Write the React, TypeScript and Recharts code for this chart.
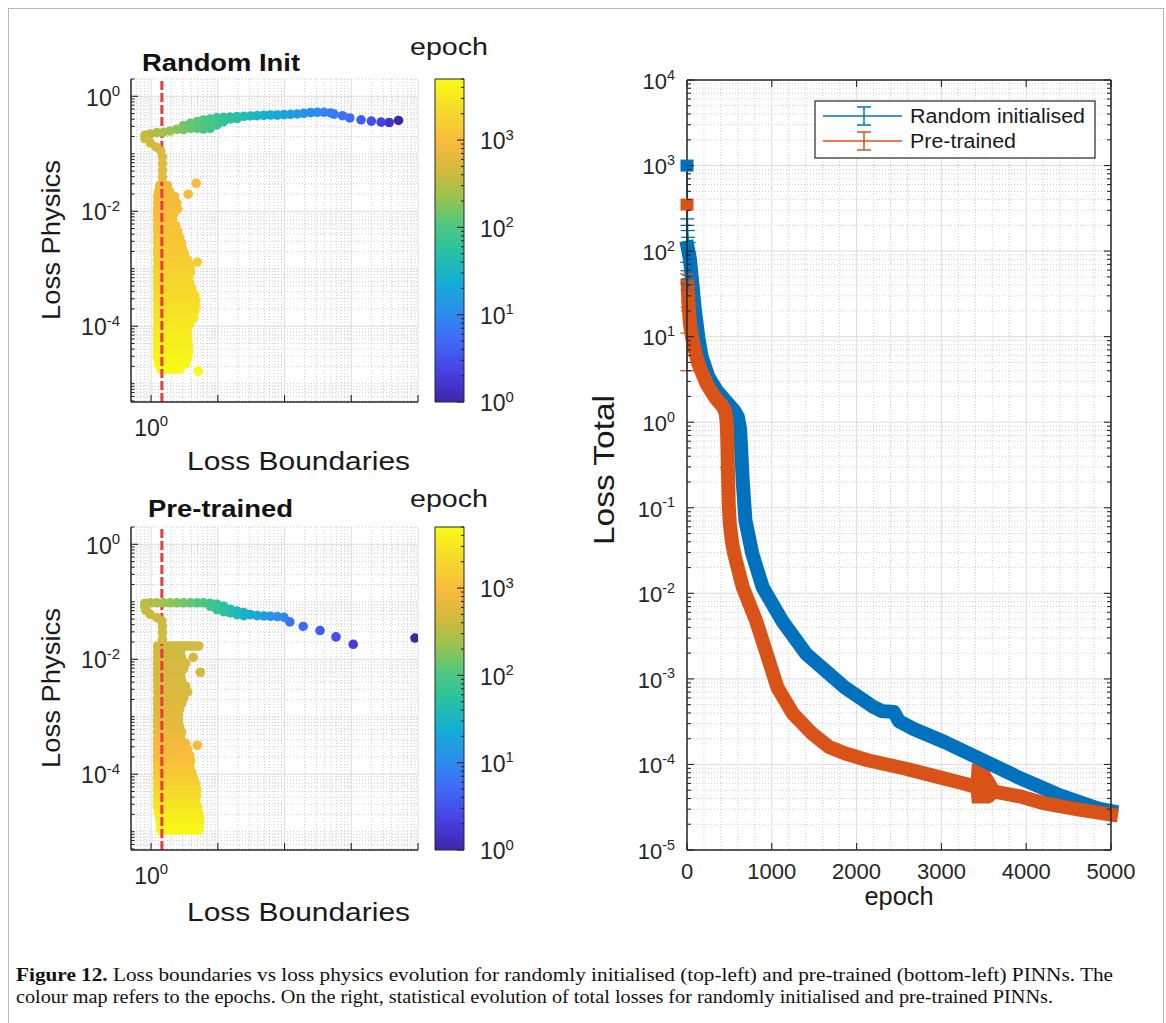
import React from "react";
import {
  ComposedChart,
  Scatter,
  Line,
  Area,
  XAxis,
  YAxis,
  CartesianGrid,
  ReferenceLine,
  ReferenceArea,
  ErrorBar,
} from "recharts";

// ---------- Random Init panel: each dot = (loss boundaries, loss physics, epoch) ----------
const randB = [5100, 3700, 2800, 2000, 1400, 950, 740, 550, 492, 390, 310, 246, 195, 155, 123, 98, 78, 61.5, 48.9, 38.8, 30.8, 24.5, 19.4, 19.4, 15.4, 15.4, 12.2, 12.2, 9.7, 9.7, 9.7, 7.7, 7.7, 7.7, 6.1, 6.1, 6.1, 4.9, 4.9, 3.9, 3.9, 3.06, 3.06, 2.43, 1.93, 1.53, 1.22, 0.97, 0.81, 0.81, 0.97, 1.19, 1.4, 1.48, 1.48, 1.48, 1.48, 4.75, 3.6, 4.92, 5.09];
const randP = [0.38, 0.35, 0.355, 0.37, 0.39, 0.42, 0.46, 0.49, 0.513, 0.527, 0.527, 0.52, 0.506, 0.493, 0.486, 0.48, 0.473, 0.473, 0.468, 0.461, 0.455, 0.449, 0.443, 0.41, 0.437, 0.404, 0.431, 0.363, 0.426, 0.367, 0.317, 0.404, 0.335, 0.278, 0.388, 0.326, 0.27, 0.363, 0.278, 0.34, 0.278, 0.309, 0.263, 0.267, 0.249, 0.237, 0.233, 0.221, 0.21, 0.184, 0.155, 0.131, 0.112, 0.088, 0.0675, 0.0516, 0.039, 0.0307, 0.0198, 0.0013, 1.65e-5];
const randE = [1, 1.5, 2.2, 3, 4, 5, 6, 7, 7.5, 8.5, 9.5, 11, 12.5, 14, 16, 18, 21, 24, 28, 32, 37, 43, 50, 50, 58, 58, 66, 66, 76, 76, 76, 88, 88, 88, 100, 100, 100, 115, 115, 132, 132, 155, 155, 180, 210, 245, 280, 320, 360, 400, 440, 480, 520, 560, 610, 660, 710, 900, 950, 1500, 4800];
// dense late-epoch cloud, read row by row (physics level, boundaries from..to, epoch)
const randRowP = [0.028, 0.022, 0.018, 0.014, 0.011, 0.0089, 0.0071, 0.0056, 0.0045, 0.0035, 0.0028, 0.0022, 0.0018, 0.0014, 0.0011, 8.9e-4, 7.1e-4, 5.6e-4, 4.5e-4, 3.5e-4, 2.8e-4, 2.2e-4, 1.8e-4, 1.4e-4, 1.1e-4, 8.9e-5, 7.1e-5, 5.6e-5, 4.5e-5, 3.5e-5, 2.8e-5, 2.2e-5, 1.8e-5];
const randRowFrom = [1.34, 1.3, 1.25, 1.25, 1.25, 1.25, 1.25, 1.25, 1.25, 1.25, 1.25, 1.25, 1.25, 1.25, 1.25, 1.25, 1.25, 1.25, 1.25, 1.25, 1.25, 1.25, 1.25, 1.25, 1.25, 1.25, 1.25, 1.25, 1.25, 1.25, 1.25, 1.3, 1.39];
const randRowTo = [1.77, 1.9, 2.25, 2.42, 2.5, 2.18, 2.11, 2.34, 2.5, 2.68, 2.87, 2.97, 3.19, 3.54, 3.8, 3.93, 3.66, 3.8, 4.07, 4.51, 4.67, 4.67, 4.51, 4.35, 3.8, 3.42, 3.54, 3.54, 3.66, 3.66, 3.54, 3.3, 2.68];
const randRowE = [750, 800, 850, 900, 950, 1000, 1050, 1100, 1150, 1200, 1300, 1350, 1400, 1500, 1600, 1700, 1800, 1900, 2000, 2150, 2300, 2450, 2600, 2800, 3000, 3200, 3400, 3600, 3800, 4000, 4200, 4500, 4800];

// ---------- Pre-trained panel ----------
const pretB = [9000, 1070, 590, 340, 190, 120, 98, 78, 61.5, 48.9, 38.8, 30.8, 24.5, 24.5, 19.4, 19.4, 15.4, 15.4, 12.2, 12.2, 9.7, 9.7, 7.7, 7.7, 6.1, 4.9, 3.9, 3.06, 2.43, 1.93, 1.53, 1.22, 0.97, 0.81, 0.8, 0.84, 0.97, 1.22, 1.45, 1.48, 1.48, 1.48, 5.46, 4.28, 4.92];
const pretP = [0.0234, 0.0182, 0.0245, 0.0316, 0.0372, 0.0447, 0.0537, 0.055, 0.056, 0.0567, 0.0575, 0.0598, 0.0649, 0.0575, 0.0693, 0.0598, 0.0741, 0.064, 0.0836, 0.0675, 0.0905, 0.073, 0.094, 0.0836, 0.096, 0.096, 0.096, 0.096, 0.096, 0.096, 0.096, 0.096, 0.096, 0.094, 0.0857, 0.071, 0.0603, 0.0531, 0.0464, 0.037, 0.029, 0.022, 0.00594, 0.0108, 3.19e-4];
const pretE = [1, 2, 3, 4, 5, 6, 9, 11, 13, 15, 18, 22, 28, 28, 34, 34, 42, 42, 52, 52, 65, 65, 80, 80, 95, 110, 130, 150, 175, 200, 230, 260, 290, 320, 350, 380, 400, 420, 430, 435, 440, 445, 470, 450, 900];
const pretRowP = [0.017, 0.0135, 0.0107, 0.0085, 0.0068, 0.0054, 0.0043, 0.0034, 0.0027, 0.0021, 0.0017, 0.00135, 0.00107, 8.5e-4, 6.8e-4, 5.4e-4, 4.3e-4, 3.4e-4, 2.7e-4, 2.1e-4, 1.7e-4, 1.35e-4, 1.07e-4, 8.5e-5, 6.8e-5, 5.4e-5, 4.3e-5, 3.4e-5, 2.7e-5, 2.1e-5, 1.7e-5, 1.35e-5, 1.07e-5];
const pretRowFrom = [1.25, 1.25, 1.25, 1.25, 1.25, 1.25, 1.25, 1.25, 1.25, 1.25, 1.25, 1.25, 1.25, 1.25, 1.25, 1.25, 1.25, 1.25, 1.25, 1.25, 1.25, 1.25, 1.25, 1.25, 1.25, 1.25, 1.25, 1.25, 1.25, 1.3, 1.34, 1.39, 1.39];
const pretRowTo = [5.18, 2.78, 2.87, 3.3, 3.08, 2.78, 2.87, 3.3, 3.54, 3.08, 2.87, 2.68, 2.59, 2.59, 2.68, 2.87, 2.78, 3.3, 3.54, 3.8, 3.93, 3.8, 4.07, 4.35, 4.67, 4.83, 4.83, 4.67, 5.0, 5.18, 5.36, 5.36, 5.18];
const pretRowE = [440, 450, 460, 470, 480, 490, 500, 515, 530, 545, 560, 580, 600, 630, 660, 700, 750, 800, 870, 950, 1050, 1150, 1300, 1450, 1650, 1900, 2200, 2500, 2900, 3300, 3700, 4100, 4600];

const redLineB = 1.45;

// ---------- Total loss vs epoch ----------
const epochBlue = [0, 8, 35, 63, 94, 134, 173, 252, 350, 487, 560, 600, 625, 640, 658, 689, 770, 892, 1120, 1403, 1858, 2199, 2300, 2440, 2500, 2674, 3037, 3490, 3944, 4398, 4852, 5000];
const lossBlue = [1000, 110, 80, 41, 20, 9.8, 5.8, 3.4, 2.35, 1.64, 1.35, 1.15, 0.85, 0.45, 0.2, 0.071, 0.029, 0.0118, 0.0048, 0.00197, 8.0e-4, 4.7e-4, 4.2e-4, 4.1e-4, 3.2e-4, 2.6e-4, 1.83e-4, 1.12e-4, 6.8e-5, 4.35e-5, 3.05e-5, 2.85e-5];
const epochOrange = [0, 8, 16, 35, 74, 134, 232, 330, 428, 455, 468, 476, 484, 492, 505, 530, 560, 657, 814, 937, 1065, 1246, 1474, 1675, 1858, 2130, 2582, 2900, 3264, 3400, 3627, 3944, 4216, 4622, 5000];
const lossOrange = [350, 40, 26, 14, 8.2, 4.8, 2.8, 1.95, 1.5, 1.3, 1.0, 0.6, 0.25, 0.11, 0.065, 0.04, 0.028, 0.0118, 0.0048, 0.002, 8.0e-4, 3.95e-4, 2.3e-4, 1.6e-4, 1.35e-4, 1.12e-4, 8.9e-5, 7.4e-5, 6.0e-5, 5.5e-5, 4.8e-5, 4.2e-5, 3.5e-5, 2.97e-5, 2.6e-5];
// error bars that stick out of the bands
const errBlueEpoch = [2, 5, 9, 14, 20, 27];
const errBlueMid = [130, 115, 100, 88, 80, 70];
const errBlueLow = [74, 59, 41, 35, 47, 52];
const errBlueHigh = [238, 200, 174, 145, 126, 97];
const errOrangeEpoch = [2, 5, 8, 12, 470, 478];
const errOrangeMid = [38, 33, 28, 24, 0.65, 0.5];
const errOrangeLow = [4, 11, 22, 20, 0.3, 0.28];
const errOrangeHigh = [54, 43, 35, 26, 0.9, 0.8];
// the wide spread of the pre-trained runs near epoch 3500
const spikeEpoch = [3355, 3370, 3540, 3565, 3610, 3660];
const spikeLow = [5.4e-5, 3.6e-5, 3.6e-5, 3.6e-5, 3.8e-5, 4.3e-5];
const spikeHigh = [5.8e-5, 1.0e-4, 1.0e-4, 8.0e-5, 6.8e-5, 5.6e-5];

const epochTicks = [0, 1000, 2000, 3000, 4000, 5000];

// ---------- styles ----------
const SANS = '"Liberation Sans", Arial, Helvetica, sans-serif';
const SERIF = '"Liberation Serif", "Times New Roman", serif';
const INK = "#262626";
const GRID = "#dcdcdc";
const GRID_MINOR = "#cdcdcd";
const BLUE = "#0072BD";
const ORANGE = "#D95319";
const RED = "#ec3b3b";

const PARULA: [number, number[]][] = [
  [0.0, [62, 38, 168]],
  [0.1, [71, 67, 230]],
  [0.2, [62, 110, 248]],
  [0.27, [44, 138, 238]],
  [0.37, [19, 174, 214]],
  [0.47, [42, 194, 160]],
  [0.55, [79, 199, 127]],
  [0.63, [151, 196, 81]],
  [0.7, [201, 186, 64]],
  [0.8, [248, 186, 60]],
  [0.9, [246, 217, 43]],
  [1.0, [249, 251, 21]],
];
const rgb = (c: number[]) => `rgb(${c.map((v) => Math.round(v)).join(",")})`;

function parula(epoch: number) {
  const t = Math.min(1, Math.max(0, Math.log10(epoch) / Math.log10(5000)));
  for (let i = 1; i < PARULA.length; i++) {
    const [t0, c0] = PARULA[i - 1];
    const [t1, c1] = PARULA[i];
    if (t <= t1) {
      const f = (t - t0) / (t1 - t0);
      return rgb(c0.map((v, k) => v + (c1[k] - v) * f));
    }
  }
  return rgb(PARULA[PARULA.length - 1][1]);
}

// all log ticks k*10^n inside [lo, hi]
function logTicks(lo: number, hi: number) {
  const out: number[] = [];
  for (let e = Math.floor(Math.log10(lo)); e <= Math.ceil(Math.log10(hi)); e++) {
    for (let k = 1; k <= 9; k++) {
      const v = +(k * Math.pow(10, e)).toPrecision(3);
      if (v >= lo * 0.999 && v <= hi * 1.001) out.push(v);
    }
  }
  return out;
}
const isIn = (v: number, list: number[]) =>
  list.some((m) => Math.abs(v - m) <= Math.abs(m) * 1e-6 + 1e-12);

type Side = "left" | "right" | "bottom" | "top";

function makeTick(side: Side, majors: number[], labels: number[], fs: number, off: number, pow: boolean, minorLen = 4) {
  return function AxisTick(p: any) {
    const v = Number(p.payload?.value);
    const x = Number(p.x);
    const y = Number(p.y);
    const len = isIn(v, majors) ? 7 : minorLen;
    const seg =
      side === "left" ? [x, y, x + len, y]
      : side === "right" ? [x, y, x - len, y]
      : side === "bottom" ? [x, y, x, y - len]
      : [x, y, x, y + len];
    let label: React.ReactNode = null;
    if (isIn(v, labels)) {
      const anchor = side === "left" ? "end" : side === "right" ? "start" : "middle";
      const lx = side === "left" ? x - off : side === "right" ? x + off : x;
      const ly = side === "bottom" ? y + off : y + fs * 0.4;
      label = (
        <text x={lx} y={ly} textAnchor={anchor} fontSize={fs} fontFamily={SANS} fill={INK}>
          {pow ? "10" : String(v)}
          {pow && (
            <tspan dy={-fs * 0.42} fontSize={fs * 0.65}>
              {Math.round(Math.log10(v))}
            </tspan>
          )}
        </text>
      );
    }
    return (
      <g>
        <line x1={seg[0]} y1={seg[1]} x2={seg[2]} y2={seg[3]} stroke={INK} strokeWidth={1.1} />
        {label}
      </g>
    );
  };
}

// ---------- scatter panels ----------
const physTicks = logTicks(4.8e-6, 2);
const physMajor = [1, 1e-2, 1e-4];
const physMinor = physTicks.filter((v) => !isIn(v, physMajor));
const bndMajor = [1, 10, 100, 1000, 10000];
const bndMinor = logTicks(0.5, 10000).filter((v) => !isIn(v, bndMajor));
const cbTicks = logTicks(1, 5000);
const cbMajor = [1, 10, 100, 1000];

const physTick = makeTick("left", physMajor, physMajor, 23, 11, true, 3.5);
const bndTick = makeTick("bottom", bndMajor, [1], 23, 34, true);
const cbTick = makeTick("right", cbMajor, cbMajor, 23, 16, true, 3);

const Dot = (p: any) => <circle cx={p.cx} cy={p.cy} r={4.8} fill={parula(p.payload.e)} />;

type PanelProps = {
  top: number;
  b: number[];
  p: number[];
  e: number[];
  rowP: number[];
  rowFrom: number[];
  rowTo: number[];
  rowE: number[];
};

function LossPanel({ top, b, p, e, rowP, rowFrom, rowTo, rowE }: PanelProps) {
  const dots = b.map((x, i) => ({ x, y: p[i], e: e[i] }));
  return (
    <>
      <div style={{ position: "absolute", left: 0, top }}>
        <ComposedChart width={440} height={450} margin={{ top: 79, right: 22, bottom: 0, left: 0 }}>
          <CartesianGrid horizontalValues={physMinor} verticalValues={bndMinor} stroke={GRID_MINOR} strokeDasharray="1 2" />
          <CartesianGrid horizontalValues={physMajor} verticalValues={bndMajor} stroke={GRID} />
          <XAxis
            type="number"
            dataKey="x"
            scale="log"
            domain={[0.5, 10000]}
            allowDataOverflow
            ticks={bndMajor}
            interval={0}
            height={48}
            tickLine={false}
            tickSize={0}
            tickMargin={0}
            axisLine={{ stroke: INK, strokeWidth: 1.5 }}
            tick={bndTick}
          />
          <YAxis
            type="number"
            scale="log"
            domain={[4.8e-6, 2]}
            allowDataOverflow
            ticks={physTicks}
            interval={0}
            width={131}
            tickLine={false}
            tickSize={0}
            tickMargin={0}
            axisLine={{ stroke: INK, strokeWidth: 1.5 }}
            tick={physTick}
          />
          {rowP.map((y, i) => (
            <ReferenceLine
              key={i}
              segment={[{ x: rowFrom[i], y }, { x: rowTo[i], y }]}
              stroke={parula(rowE[i])}
              strokeWidth={9.6}
              strokeLinecap="round"
            />
          ))}
          <Scatter data={dots} dataKey="y" isAnimationActive={false} shape={Dot} />
          <ReferenceLine x={redLineB} stroke={RED} strokeWidth={3} strokeDasharray="9 3" />
        </ComposedChart>
      </div>
      <div style={{ position: "absolute", left: 430, top: top + 60 }}>
        <ComposedChart width={100} height={360} margin={{ top: 19, right: 0, bottom: 18, left: 5 }}>
          <XAxis type="number" dataKey="x" domain={[0, 1]} allowDataOverflow hide />
          <YAxis
            type="number"
            orientation="right"
            scale="log"
            domain={[1, 5000]}
            allowDataOverflow
            ticks={cbTicks}
            interval={0}
            width={66}
            tickLine={false}
            tickSize={0}
            tickMargin={0}
            axisLine={false}
            tick={cbTick}
          />
          <ReferenceArea x1={0} x2={1} y1={1} y2={5000} fill="url(#parulaGrad)" fillOpacity={1} stroke={INK} strokeWidth={1} />
        </ComposedChart>
      </div>
    </>
  );
}

// ---------- total loss chart ----------
const lossTicks = logTicks(1e-5, 1e4);
const lossMajor = [1e-5, 1e-4, 1e-3, 1e-2, 1e-1, 1, 10, 100, 1000, 10000];
const lossMinor = lossTicks.filter((v) => !isIn(v, lossMajor));
const epochMinor = [200, 400, 600, 800, 1200, 1400, 1600, 1800, 2200, 2400, 2600, 2800, 3200, 3400, 3600, 3800, 4200, 4400, 4600, 4800];

const lossTick = makeTick("left", lossMajor, lossMajor, 22, 12, true);
const lossTickR = makeTick("right", lossMajor, [], 22, 0, true);
const epochTick = makeTick("bottom", epochTicks, epochTicks, 22, 29, false);
const epochTickTop = makeTick("top", epochTicks, [], 22, 0, false);

const Square = (p: any) => <rect x={p.cx - 6.5} y={p.cy - 6} width={13} height={12} fill={p.payload.c} />;
const NoDot = () => <g />;

function TotalLossChart() {
  const blue = epochBlue.map((x, i) => ({ x, y: lossBlue[i] }));
  const orange = epochOrange.map((x, i) => ({ x, y: lossOrange[i] }));
  const blueErr = errBlueEpoch.map((x, i) => ({ x, y: errBlueMid[i], err: [errBlueMid[i] - errBlueLow[i], errBlueHigh[i] - errBlueMid[i]] }));
  const orangeErr = errOrangeEpoch.map((x, i) => ({ x, y: errOrangeMid[i], err: [errOrangeMid[i] - errOrangeLow[i], errOrangeHigh[i] - errOrangeMid[i]] }));
  const spike = spikeEpoch.map((x, i) => ({ x, r: [spikeLow[i], spikeHigh[i]] }));
  const firsts = [
    { x: epochBlue[0], y: lossBlue[0], c: BLUE },
    { x: epochOrange[0], y: lossOrange[0], c: ORANGE },
  ];
  return (
    <div style={{ position: "absolute", left: 560, top: 0 }}>
      <ComposedChart width={580} height={900} margin={{ top: 79, right: 28, bottom: 0, left: 0 }}>
        <CartesianGrid horizontalValues={lossMinor} verticalValues={epochMinor} stroke={GRID_MINOR} strokeDasharray="1 2" />
        <CartesianGrid horizontalValues={lossMajor} verticalValues={epochTicks} stroke={GRID} />
        <XAxis
          type="number"
          dataKey="x"
          domain={[0, 5000]}
          ticks={epochTicks}
          interval={0}
          height={50}
          tickLine={false}
          tickSize={0}
          tickMargin={0}
          axisLine={{ stroke: INK, strokeWidth: 1.5 }}
          tick={epochTick}
        />
        <XAxis
          xAxisId="top"
          orientation="top"
          type="number"
          dataKey="x"
          domain={[0, 5000]}
          allowDataOverflow
          ticks={epochTicks}
          interval={0}
          height={1}
          tickLine={false}
          tickSize={0}
          tickMargin={0}
          axisLine={{ stroke: INK, strokeWidth: 1.5 }}
          tick={epochTickTop}
        />
        <YAxis
          type="number"
          scale="log"
          domain={[1e-5, 1e4]}
          ticks={lossTicks}
          interval={0}
          width={127}
          tickLine={false}
          tickSize={0}
          tickMargin={0}
          axisLine={{ stroke: INK, strokeWidth: 1.5 }}
          tick={lossTick}
        />
        <YAxis
          yAxisId="right"
          orientation="right"
          type="number"
          scale="log"
          domain={[1e-5, 1e4]}
          allowDataOverflow
          ticks={lossTicks}
          interval={0}
          width={1}
          tickLine={false}
          tickSize={0}
          tickMargin={0}
          axisLine={{ stroke: INK, strokeWidth: 1.5 }}
          tick={lossTickR}
        />
        <Line data={blue} dataKey="y" stroke={BLUE} strokeWidth={1.5} dot={false} isAnimationActive={false} />
        <Line data={blue.slice(1)} dataKey="y" stroke={BLUE} strokeWidth={14} strokeLinejoin="round" strokeLinecap="square" dot={false} isAnimationActive={false} />
        <Line data={orange} dataKey="y" stroke={ORANGE} strokeWidth={1.5} dot={false} isAnimationActive={false} />
        <Line data={orange.slice(1)} dataKey="y" stroke={ORANGE} strokeWidth={14} strokeLinejoin="round" strokeLinecap="square" dot={false} isAnimationActive={false} />
        <Area data={spike} dataKey="r" stroke={ORANGE} strokeWidth={2} fill={ORANGE} fillOpacity={1} isAnimationActive={false} />
        <Scatter data={blueErr} dataKey="y" shape={NoDot} isAnimationActive={false}>
          <ErrorBar dataKey="err" direction="y" width={7} stroke={BLUE} strokeWidth={1.3} />
        </Scatter>
        <Scatter data={orangeErr} dataKey="y" shape={NoDot} isAnimationActive={false}>
          <ErrorBar dataKey="err" direction="y" width={7} stroke={ORANGE} strokeWidth={1.3} />
        </Scatter>
        <Scatter data={firsts} dataKey="y" shape={Square} isAnimationActive={false} />
      </ComposedChart>
    </div>
  );
}

// ---------- texts ----------
function Labels() {
  const t = { fontFamily: SANS, fill: "#1a1a1a", lengthAdjust: "spacingAndGlyphs" as const };
  return (
    <svg width={1166} height={1023} style={{ position: "absolute", left: 0, top: 0, pointerEvents: "none" }}>
      <text {...t} x={142} y={71} fontSize={23} fontWeight="bold" textLength={158} fill="#111">Random Init</text>
      <text {...t} x={148} y={517} fontSize={23} fontWeight="bold" textLength={145} fill="#111">Pre-trained</text>
      <text {...t} x={410} y={55} fontSize={23} textLength={78}>epoch</text>
      <text {...t} x={410} y={507} fontSize={23} textLength={78}>epoch</text>
      <text {...t} x={187} y={470} fontSize={25} textLength={223}>Loss Boundaries</text>
      <text {...t} x={187} y={921} fontSize={25} textLength={223}>Loss Boundaries</text>
      <text {...t} x={0} y={0} fontSize={26} textLength={160} textAnchor="middle" transform="translate(60 240) rotate(-90)">Loss Physics</text>
      <text {...t} x={0} y={0} fontSize={26} textLength={160} textAnchor="middle" transform="translate(60 688) rotate(-90)">Loss Physics</text>
      <text {...t} x={0} y={0} fontSize={30} textLength={150} textAnchor="middle" transform="translate(614 470) rotate(-90)">Loss Total</text>
      <text {...t} x={899} y={905} fontSize={25} textLength={69} textAnchor="middle">epoch</text>

      {/* legend */}
      <rect x={815} y={101} width={280} height={57} fill="#fff" stroke={INK} strokeWidth={1.2} />
      <line x1={823} x2={902} y1={116} y2={116} stroke={BLUE} strokeWidth={1.5} />
      <line x1={864} x2={864} y1={107} y2={125} stroke={BLUE} strokeWidth={1.5} />
      <line x1={857} x2={871} y1={107} y2={107} stroke={BLUE} strokeWidth={1.5} />
      <line x1={857} x2={871} y1={125} y2={125} stroke={BLUE} strokeWidth={1.5} />
      <text {...t} x={910} y={123} fontSize={20} textLength={175}>Random initialised</text>
      <line x1={823} x2={902} y1={141} y2={141} stroke={ORANGE} strokeWidth={1.5} />
      <line x1={864} x2={864} y1={132} y2={150} stroke={ORANGE} strokeWidth={1.5} />
      <line x1={857} x2={871} y1={132} y2={132} stroke={ORANGE} strokeWidth={1.5} />
      <line x1={857} x2={871} y1={150} y2={150} stroke={ORANGE} strokeWidth={1.5} />
      <text {...t} x={910} y={148} fontSize={20} textLength={106}>Pre-trained</text>

      {/* caption */}
      <text x={16} y={981} fontFamily={SERIF} fontSize={19} fill="#111" textLength={1097} lengthAdjust="spacingAndGlyphs">
        <tspan fontWeight="bold">Figure 12.</tspan>
        {" Loss boundaries vs loss physics evolution for randomly initialised (top-left) and pre-trained (bottom-left) PINNs. The"}
      </text>
      <text x={16} y={1003} fontFamily={SERIF} fontSize={19} fill="#111" textLength={1037} lengthAdjust="spacingAndGlyphs">
        colour map refers to the epochs. On the right, statistical evolution of total losses for randomly initialised and pre-trained PINNs.
      </text>
    </svg>
  );
}

export default function App() {
  return (
    <div style={{ position: "relative", width: 1166, height: 1023, overflow: "hidden", background: "#fff" }}>
      <style>{"html,body{margin:0;padding:0;overflow:hidden;background:#fff}"}</style>
      <svg width={0} height={0} style={{ position: "absolute" }}>
        <defs>
          <linearGradient id="parulaGrad" x1="0" y1="1" x2="0" y2="0">
            {PARULA.map(([o, c]) => (
              <stop key={o} offset={o} stopColor={rgb(c)} />
            ))}
          </linearGradient>
        </defs>
      </svg>
      <div style={{ position: "absolute", left: 8, top: 8, width: 1156, height: 1040, border: "1px solid #b8b8b8", boxSizing: "border-box" }} />
      <LossPanel top={0} b={randB} p={randP} e={randE} rowP={randRowP} rowFrom={randRowFrom} rowTo={randRowTo} rowE={randRowE} />
      <LossPanel top={448} b={pretB} p={pretP} e={pretE} rowP={pretRowP} rowFrom={pretRowFrom} rowTo={pretRowTo} rowE={pretRowE} />
      <TotalLossChart />
      <Labels />
    </div>
  );
}
